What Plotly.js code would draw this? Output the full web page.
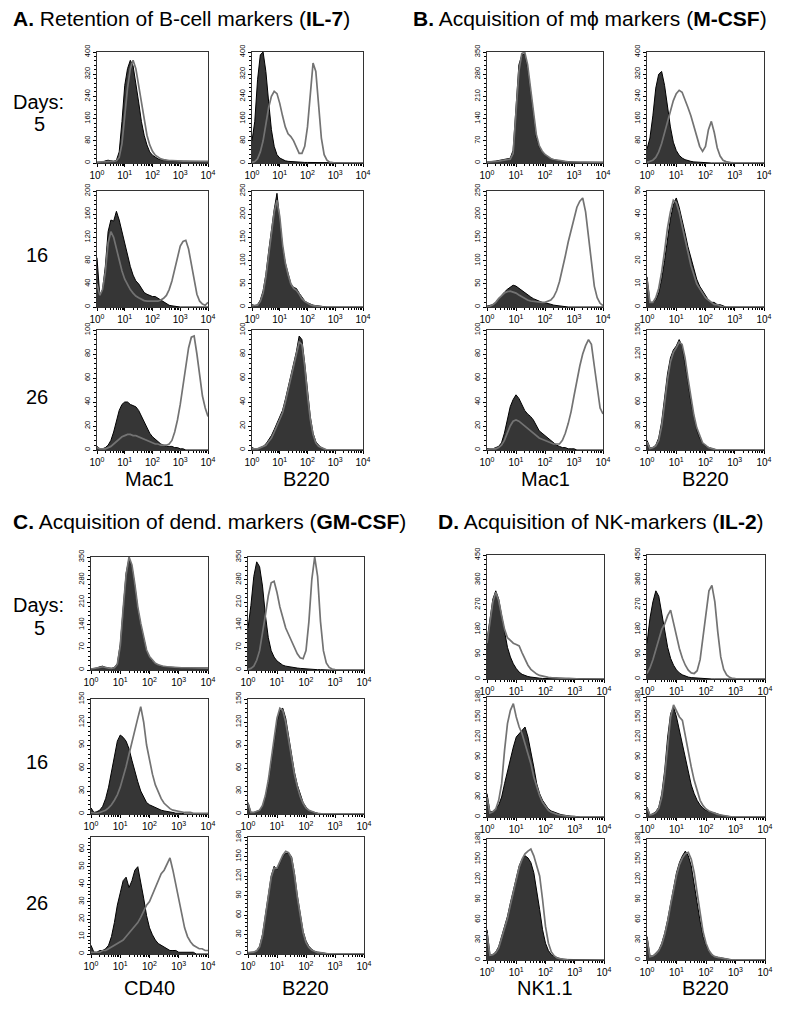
<!DOCTYPE html>
<html><head><meta charset="utf-8">
<script src="https://cdn.plot.ly/plotly-3.0.1.min.js"></script>
<style>html,body{margin:0;padding:0;background:#fff}</style>
</head><body><div id="chart" style="width:800px;height:1011px"></div>
<script>
// log10 fluorescence bin centres
const logBins = [0.0,0.1,0.2,0.3,0.4,0.5,0.6,0.7,0.8,0.9,1.0,1.1,1.2,1.3,1.4,1.5,1.6,1.7,1.8,1.9,2.0,2.1,2.2,2.3,2.4,2.5,2.6,2.7,2.8,2.9,3.0,3.1,3.2,3.3,3.4,3.5,3.6,3.7,3.8,3.9,4.0];
const decadeVals = [1,10,100,1000,10000];
const decadeText = ['10<sup>0</sup>','10<sup>1</sup>','10<sup>2</sup>','10<sup>3</sup>','10<sup>4</sup>'];

// Panel A (IL-7)
const A_mac1_d5_ctrl = [0,0,2,8,10,8,6,10,40,150, 280,340,370,350,290,220,150,100,65,40, 28,20,15,12,10,9,8,8,7,7, 6,6,6,5,5,5,5,5,5,5, 5];
const A_mac1_d5_mark = [3,4,5,6,7,6,6,8,20,70, 170,270,340,370,340,280,210,150,100,65, 42,28,20,15,12,10,9,9,8,8, 8,7,7,7,7,6,6,6,6,6, 6];
const A_b220_d5_ctrl = [80,150,300,390,400,330,220,120,60,30, 18,12,8,6,5,4,3,3,2,2, 2,2,1,1,1,1,0,0,0,0, 0,0,0,0,0,0,0,0,0,0, 0];
const A_b220_d5_mark = [2,5,15,40,80,140,200,240,258,250, 215,170,130,105,95,80,55,35,35,60, 130,250,360,330,210,90,30,10,3,1, 0,0,0,0,0,0,0,0,0,0, 0];
const A_mac1_d16_ctrl = [85,20,30,70,130,150,148,165,150,130, 105,85,70,55,45,40,32,25,22,20, 18,18,15,12,8,5,3,2,1,0, 0,0,0,0,0,0,0,0,0,0, 0];
const A_mac1_d16_mark = [40,20,30,60,110,130,120,100,80,62, 48,38,30,24,19,16,13,11,10,10, 10,10,10,12,15,20,30,45,65,88, 105,113,115,100,75,45,22,10,5,3, 8];
const A_b220_d16_ctrl = [5,3,5,15,35,70,120,170,210,245, 190,130,95,70,50,42,40,30,20,13, 9,6,4,3,2,1,1,0,0,0, 0,0,0,0,0,0,0,0,0,0, 0];
const A_b220_d16_mark = [3,3,4,12,30,65,115,165,205,230, 195,135,95,70,50,40,36,28,18,12, 8,5,3,2,2,1,0,0,0,0, 0,0,0,0,0,0,0,0,0,0, 0];
const A_mac1_d26_ctrl = [3,1,1,2,4,8,15,25,33,38, 40,40,38,37,36,33,28,23,18,14, 11,9,7,5,4,3,3,3,2,2, 1,1,0,0,0,0,0,0,0,0, 0];
const A_mac1_d26_mark = [2,1,1,1,2,3,5,7,9,11, 12,13,13,12,12,11,10,9,8,7, 6,5,5,4,4,4,5,8,15,25, 38,55,70,85,94,95,80,62,45,35, 28];
const A_b220_d26_ctrl = [2,1,1,2,3,5,8,12,17,22, 27,33,42,52,62,72,82,95,92,72, 48,28,14,7,4,2,1,0,0,0, 0,0,0,0,0,0,0,0,0,0, 0];
const A_b220_d26_mark = [1,1,1,2,3,4,7,10,15,20, 25,31,40,50,60,70,80,90,88,70, 46,26,13,6,3,2,1,0,0,0, 0,0,0,0,0,0,0,0,0,0, 0];

// Panel B (M-CSF)
const B_mac1_d5_ctrl = [3,3,5,6,8,8,10,12,15,40, 180,310,340,345,300,220,140,80,50,35, 25,18,13,10,8,6,5,4,4,3, 3,2,2,2,2,2,2,2,2,2, 2];
const B_mac1_d5_mark = [3,3,4,5,6,7,8,10,12,30, 150,290,345,350,310,230,150,90,55,38, 27,20,14,11,9,7,6,5,4,4, 3,3,3,2,2,2,2,2,2,2, 2];
const B_b220_d5_ctrl = [50,90,170,270,320,330,280,200,130,75, 45,28,18,12,8,6,4,3,2,2, 1,0,0,0,0,0,0,0,0,0, 0,0,0,0,0,0,0,0,0,0, 0];
const B_b220_d5_mark = [2,5,10,20,40,70,110,150,190,225, 250,262,255,230,200,170,135,95,60,42, 60,120,150,110,55,25,10,5,2,1, 0,0,0,0,0,0,0,0,0,0, 0];
const B_mac1_d16_ctrl = [2,3,5,10,18,25,32,38,42,47, 45,40,35,30,27,22,18,15,12,10, 9,8,6,4,3,2,1,0,0,0, 0,0,0,0,0,0,0,0,0,0, 0];
const B_mac1_d16_mark = [1,2,5,10,18,25,30,33,34,32, 30,26,22,18,15,13,12,11,10,10, 10,12,15,22,35,55,80,110,140,165, 190,215,228,235,205,150,90,45,20,8, 3];
const B_b220_d16_ctrl = [13,2,2,3,6,12,20,30,38,44, 47,43,38,32,26,21,16,12,9,7, 5,3,2,2,1,1,0.5,0,0,0, 0,0,0,0,0,0,0,0,0,0, 0];
const B_b220_d16_mark = [12,2,2,4,8,15,24,34,41,46, 45,41,35,29,23,18,14,10,8,6, 4,3,2,1,1,0.5,0,0,0,0, 0,0,0,0,0,0,0,0,0,0, 0];
const B_mac1_d26_ctrl = [1,1,1,2,3,6,14,25,36,42, 46,43,38,33,30,28,25,21,16,14, 12,10,8,6,4,3,2,2,1,1, 1,0,0,0,0,0,0,0,0,0, 0];
const B_mac1_d26_mark = [0,1,1,1,2,4,8,14,20,24, 25,24,22,20,18,16,14,12,10,9, 8,7,6,5,5,5,8,14,22,32, 45,58,70,80,87,92,88,70,50,35, 30];
const B_b220_d26_ctrl = [12,3,3,6,15,35,65,95,115,125, 130,138,130,110,85,60,40,25,15,8, 5,3,2,1,0,0,0,0,0,0, 0,0,0,0,0,0,0,0,0,0, 0];
const B_b220_d26_mark = [10,2,3,5,12,30,58,88,110,122, 128,135,132,115,90,65,44,28,17,9, 6,3,2,1,0,0,0,0,0,0, 0,0,0,0,0,0,0,0,0,0, 0];

// Panel C (GM-CSF)
const C_cd40_d5_ctrl = [3,4,6,10,12,8,6,5,8,20, 80,200,300,345,320,260,190,140,95,60, 40,28,20,15,12,10,9,8,8,8, 7,7,6,6,6,6,6,6,6,6, 6];
const C_cd40_d5_mark = [3,4,5,8,10,7,6,5,7,18, 75,190,295,350,325,265,195,145,98,62, 42,30,21,16,13,11,10,9,9,8, 8,7,7,7,6,6,6,6,6,6, 6];
const C_b220_d5_ctrl = [130,200,290,335,320,260,170,100,60,40, 28,20,15,12,10,8,7,6,5,4, 3,3,2,2,1,1,0,0,0,0, 0,0,0,0,0,0,0,0,0,0, 0];
const C_b220_d5_mark = [2,5,12,30,60,110,170,230,270,275, 240,195,160,130,110,90,70,50,38,35, 60,150,280,350,290,150,60,22,8,3, 1,0,0,0,0,0,0,0,0,0, 0];
const C_cd40_d16_ctrl = [8,2,3,5,10,20,35,55,75,95, 103,100,95,85,70,55,42,30,22,15, 12,10,9,7,5,4,3,2,2,1, 1,1,0,0,0,0,0,0,0,0, 0];
const C_cd40_d16_mark = [2,1,1,2,3,5,8,12,18,25, 35,48,62,78,95,112,125,140,120,90, 70,52,38,28,20,14,10,7,5,4, 3,3,2,2,2,1,1,1,1,1, 1];
const C_b220_d16_ctrl = [15,2,2,3,5,10,22,40,65,95, 120,135,138,125,100,75,55,38,25,15, 9,5,3,2,1,0,0,0,0,0, 0,0,0,0,0,0,0,0,0,0, 0];
const C_b220_d16_mark = [14,2,2,3,5,11,24,44,70,100, 125,138,135,120,98,72,52,36,23,14, 8,5,3,2,1,0,0,0,0,0, 0,0,0,0,0,0,0,0,0,0, 0];
const C_cd40_d26_ctrl = [5,1,1,2,2,3,5,10,18,28, 35,42,44,38,42,48,50,42,32,22, 15,11,8,6,5,4,3,2,2,2, 1,1,1,1,1,1,0,0,0,0, 0];
const C_cd40_d26_mark = [1,1,1,1,2,2,3,4,5,6, 7,8,10,12,14,16,18,21,25,28, 30,34,38,42,46,48,52,55,48,40, 30,22,15,10,7,5,4,3,3,2, 2];
const C_b220_d26_ctrl = [2,2,3,5,12,30,60,95,120,135, 130,140,150,155,155,150,125,90,60,35, 20,12,7,4,3,2,1,1,0,0, 0,0,0,0,0,0,0,0,0,0, 0];
const C_b220_d26_mark = [2,2,3,5,11,28,58,92,118,132, 132,142,152,158,156,148,122,88,58,33, 18,10,6,4,2,2,1,0,0,0, 0,0,0,0,0,0,0,0,0,0, 0];

// Panel D (IL-2)
const D_nk_d5_ctrl = [140,220,290,320,290,230,165,115,80,55, 38,25,17,12,9,7,5,4,3,2, 2,1,1,0,0,0,0,0,0,0, 0,0,0,0,0,0,0,0,0,0, 0];
const D_nk_d5_mark = [130,210,280,315,285,230,180,150,140,130, 125,120,95,70,50,35,25,18,13,10, 8,6,5,4,4,3,3,2,2,1, 1,0,0,0,0,0,0,0,0,0, 0];
const D_b220_d5_ctrl = [130,220,280,320,300,240,170,115,75,50, 33,22,15,10,7,5,4,3,2,2, 1,0,0,0,0,0,0,0,0,0, 0,0,0,0,0,0,0,0,0,0, 0];
const D_b220_d5_mark = [20,40,70,110,150,180,200,230,250,200, 150,110,75,50,32,22,20,30,70,150, 250,320,340,280,170,80,35,15,6,2, 1,0,0,0,0,0,0,0,0,0, 0];
const D_nk_d16_ctrl = [35,8,8,12,18,30,50,70,90,105, 120,125,130,135,120,100,75,50,35,25, 18,12,9,7,5,4,3,2,2,1, 1,0,0,0,0,0,0,0,0,0, 0];
const D_nk_d16_mark = [30,6,8,12,25,50,100,140,160,170, 150,135,125,110,95,80,60,45,32,22, 15,10,7,5,4,3,2,2,1,1, 0,0,0,0,0,0,0,0,0,0, 0];
const D_b220_d16_ctrl = [15,3,5,8,15,35,70,120,155,165, 150,130,110,88,66,48,35,25,18,13, 10,8,7,6,4,3,2,1,0,0, 0,0,0,0,0,0,0,0,0,0, 0];
const D_b220_d16_mark = [14,3,4,7,13,30,62,112,150,168, 160,150,145,120,100,75,55,38,25,17, 12,9,7,5,4,3,2,1,0,0, 0,0,0,0,0,0,0,0,0,0, 0];
const D_nk_d26_ctrl = [45,8,8,12,20,35,50,65,85,105, 125,140,150,155,152,145,130,105,75,45, 25,14,8,5,3,2,1,1,0,0, 0,0,0,0,0,0,0,0,0,0, 0];
const D_nk_d26_mark = [40,7,8,11,18,32,48,62,82,102, 122,138,150,158,162,165,155,140,125,90, 50,25,12,6,3,2,1,1,0,0, 0,0,0,0,0,0,0,0,0,0, 0];
const D_b220_d26_ctrl = [35,6,6,10,15,25,40,60,85,110, 130,145,155,162,155,140,115,85,58,35, 22,13,8,5,4,3,2,2,1,0, 0,0,0,0,0,0,0,0,0,0, 0];
const D_b220_d26_mark = [32,5,6,9,14,23,38,57,82,106, 126,142,152,158,160,150,130,100,70,42, 25,14,8,5,4,3,2,2,1,0, 0,0,0,0,0,0,0,0,0,0, 0];

// Text
const panelTitles = [
  '<b>A.</b> Retention of B-cell markers (<b>IL-7</b>)',
  '<b>B.</b> Acquisition of mϕ markers (<b>M-CSF</b>)',
  '<b>C.</b> Acquisition of dend. markers (<b>GM-CSF</b>)',
  '<b>D.</b> Acquisition of NK-markers (<b>IL-2</b>)'
];
const rowLabels = ['Days:', '5', '16', '26'];
const colLabelsTop = ['Mac1', 'B220', 'Mac1', 'B220'];
const colLabelsBottom = ['CD40', 'B220', 'NK1.1', 'B220'];

// layout geometry (pixels)
const W = 800, H = 1011;
const FONT = '"Liberation Sans", Arial, Helvetica, sans-serif';
const colA = [[97,208],[252,363]], colB = [[487,603],[647,764]];
const colC = [[91,208],[248,364]], colD = [[487,604],[647,765]];
const rowsAB = [[52,163],[191,307],[330,450]];
const rowsC = [[557,670],[699,814],[837,954]];
const rowsD = [[555,679],[697,817],[839,960]];

const plots = [
  {c:A_mac1_d5_ctrl, m:A_mac1_d5_mark, x:colA[0], y:rowsAB[0], ym:400, ys:80},
  {c:A_b220_d5_ctrl, m:A_b220_d5_mark, x:colA[1], y:rowsAB[0], ym:400, ys:80},
  {c:A_mac1_d16_ctrl, m:A_mac1_d16_mark, x:colA[0], y:rowsAB[1], ym:200, ys:40},
  {c:A_b220_d16_ctrl, m:A_b220_d16_mark, x:colA[1], y:rowsAB[1], ym:250, ys:50},
  {c:A_mac1_d26_ctrl, m:A_mac1_d26_mark, x:colA[0], y:rowsAB[2], ym:100, ys:20},
  {c:A_b220_d26_ctrl, m:A_b220_d26_mark, x:colA[1], y:rowsAB[2], ym:100, ys:20},
  {c:B_mac1_d5_ctrl, m:B_mac1_d5_mark, x:colB[0], y:rowsAB[0], ym:350, ys:70},
  {c:B_b220_d5_ctrl, m:B_b220_d5_mark, x:colB[1], y:rowsAB[0], ym:400, ys:80},
  {c:B_mac1_d16_ctrl, m:B_mac1_d16_mark, x:colB[0], y:rowsAB[1], ym:250, ys:50},
  {c:B_b220_d16_ctrl, m:B_b220_d16_mark, x:colB[1], y:rowsAB[1], ym:50, ys:10},
  {c:B_mac1_d26_ctrl, m:B_mac1_d26_mark, x:colB[0], y:rowsAB[2], ym:100, ys:20},
  {c:B_b220_d26_ctrl, m:B_b220_d26_mark, x:colB[1], y:rowsAB[2], ym:150, ys:30},
  {c:C_cd40_d5_ctrl, m:C_cd40_d5_mark, x:colC[0], y:rowsC[0], ym:350, ys:70},
  {c:C_b220_d5_ctrl, m:C_b220_d5_mark, x:colC[1], y:rowsC[0], ym:350, ys:70},
  {c:C_cd40_d16_ctrl, m:C_cd40_d16_mark, x:colC[0], y:rowsC[1], ym:150, ys:30},
  {c:C_b220_d16_ctrl, m:C_b220_d16_mark, x:colC[1], y:rowsC[1], ym:150, ys:30},
  {c:C_cd40_d26_ctrl, m:C_cd40_d26_mark, x:colC[0], y:rowsC[2], ym:67, ys:10},
  {c:C_b220_d26_ctrl, m:C_b220_d26_mark, x:colC[1], y:rowsC[2], ym:180, ys:30},
  {c:D_nk_d5_ctrl, m:D_nk_d5_mark, x:colD[0], y:rowsD[0], ym:450, ys:90},
  {c:D_b220_d5_ctrl, m:D_b220_d5_mark, x:colD[1], y:rowsD[0], ym:450, ys:90},
  {c:D_nk_d16_ctrl, m:D_nk_d16_mark, x:colD[0], y:rowsD[1], ym:180, ys:30},
  {c:D_b220_d16_ctrl, m:D_b220_d16_mark, x:colD[1], y:rowsD[1], ym:180, ys:30},
  {c:D_nk_d26_ctrl, m:D_nk_d26_mark, x:colD[0], y:rowsD[2], ym:180, ys:30},
  {c:D_b220_d26_ctrl, m:D_b220_d26_mark, x:colD[1], y:rowsD[2], ym:180, ys:30}
];

const xs = logBins.map(b => Math.pow(10, b));
const traces = [];
const layout = {
  width: W, height: H, margin: {l:0, r:0, t:0, b:0},
  paper_bgcolor: '#fff', plot_bgcolor: '#fff', showlegend: false,
  font: {family: FONT, color: '#000'},
  annotations: []
};

plots.forEach((p, i) => {
  const n = i + 1;
  const sfx = n === 1 ? '' : String(n);
  traces.push({x: xs, y: p.c, xaxis: 'x' + sfx, yaxis: 'y' + sfx, type: 'scatter', mode: 'lines',
    fill: 'tozeroy', fillcolor: '#363636', line: {color: '#000', width: 1}, hoverinfo: 'skip'});
  traces.push({x: xs, y: p.m, xaxis: 'x' + sfx, yaxis: 'y' + sfx, type: 'scatter', mode: 'lines',
    line: {color: '#737373', width: 1.7}, hoverinfo: 'skip'});
  layout['xaxis' + sfx] = {
    domain: [p.x[0] / W, p.x[1] / W], anchor: 'y' + sfx, type: 'log', range: [0, 4],
    tickmode: 'array', tickvals: decadeVals, ticktext: decadeText,
    ticks: 'outside', ticklen: 3, tickcolor: '#000', showline: true, mirror: true,
    linecolor: '#333', linewidth: 1, showgrid: false, zeroline: false,
    tickfont: {size: 10, family: FONT, color: '#000'},
    minor: {ticks: 'outside', ticklen: 2, tickcolor: '#000', tickmode: 'linear', dtick: 'D1', showgrid: false}
  };
  layout['yaxis' + sfx] = {
    domain: [1 - p.y[1] / H, 1 - p.y[0] / H], anchor: 'x' + sfx, range: [0, p.ym],
    tickmode: 'linear', tick0: 0, dtick: p.ys, tickangle: -90,
    ticks: 'outside', ticklen: 3, tickcolor: '#000', showline: true, mirror: true,
    linecolor: '#333', linewidth: 1, showgrid: false, zeroline: false,
    tickfont: {size: 7.5, family: FONT, color: '#000'},
    minor: {ticks: 'outside', ticklen: 2, tickcolor: '#000', dtick: p.ys / 5, showgrid: false}
  };
});

function txt(s, px, py, size, anchor) {
  layout.annotations.push({text: s, x: px / W, y: 1 - py / H, xref: 'paper', yref: 'paper',
    xanchor: anchor || 'center', yanchor: 'middle', showarrow: false,
    font: {size: size, family: FONT, color: '#000'}});
}
txt(panelTitles[0], 11, 19, 21, 'left');
txt(panelTitles[1], 411, 19, 21, 'left');
txt(panelTitles[2], 11, 521, 21, 'left');
txt(panelTitles[3], 436, 521, 21, 'left');

txt(rowLabels[0], 38, 102, 20); txt(rowLabels[1], 39, 124, 20);
txt(rowLabels[2], 37, 255, 20); txt(rowLabels[3], 37, 397, 20);
txt(rowLabels[0], 38, 605, 20); txt(rowLabels[1], 39, 628, 20);
txt(rowLabels[2], 37, 762, 20); txt(rowLabels[3], 37, 903, 20);

txt(colLabelsTop[0], 149, 479, 20); txt(colLabelsTop[1], 306, 479, 20);
txt(colLabelsTop[2], 545, 479, 20); txt(colLabelsTop[3], 705, 479, 20);
txt(colLabelsBottom[0], 149, 988, 20); txt(colLabelsBottom[1], 305, 988, 20);
txt(colLabelsBottom[2], 545, 988, 20); txt(colLabelsBottom[3], 705, 988, 20);

Plotly.newPlot('chart', traces, layout, {staticPlot: true, displayModeBar: false});
</script>
</body></html>
